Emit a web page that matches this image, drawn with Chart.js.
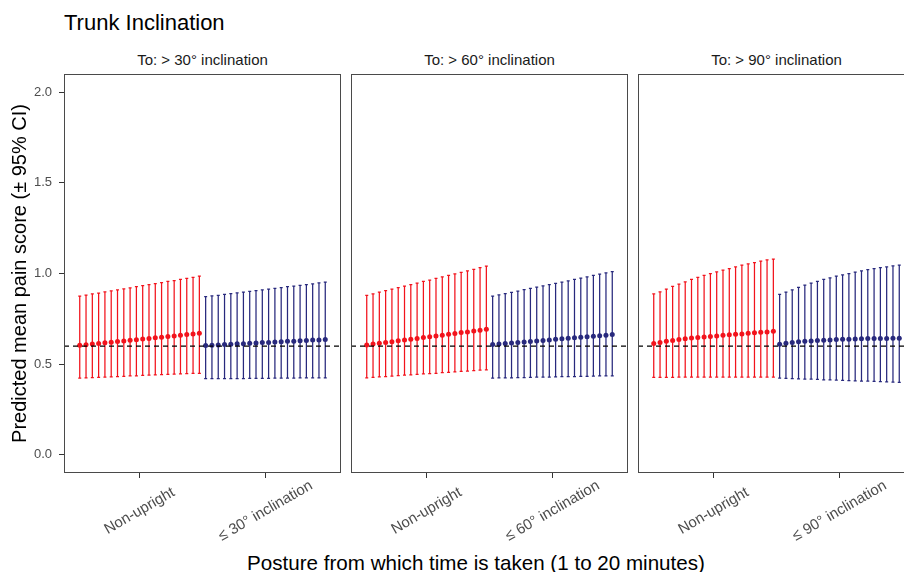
<!DOCTYPE html>
<html lang="en">
<head>
<meta charset="utf-8" />
<title>Trunk Inclination</title>
<script src="https://cdn.jsdelivr.net/npm/chart.js@4.4.1/dist/chart.umd.min.js"></script>
<style>
  html, body { margin: 0; padding: 0; width: 904px; height: 572px; overflow: hidden; background: #fff; }
  body { position: relative; font-family: "Liberation Sans", Arial, sans-serif; }
  .panel { position: absolute; top: 0; height: 572px; }
  .txt { position: absolute; white-space: nowrap; color: #000; }
  #title { left: 64px; top: 12px; font-size: 22px; line-height: 22px; }
  .strip { top: 52px; width: 277px; text-align: center; font-size: 15px; line-height: 15px; color: #1a1a1a; }
  #xtitle { left: 0; width: 952px; top: 553px; text-align: center; font-size: 20.6px; line-height: 20px; }
</style>
</head>
<body>
<div id="title" class="txt">Trunk Inclination</div>
<div id="strip0" class="txt strip" style="left:64px"></div>
<div id="strip1" class="txt strip" style="left:351px"></div>
<div id="strip2" class="txt strip" style="left:638px"></div>
<div id="xtitle" class="txt">Posture from which time is taken (1 to 20 minutes)</div>

<div class="panel" style="left:0; width:346px"><canvas id="chart0"></canvas></div>
<div class="panel" style="left:346px; width:287px"><canvas id="chart1"></canvas></div>
<div class="panel" style="left:633px; width:290px"><canvas id="chart2"></canvas></div>

<script>
// ---- data ----
const minutes = [1, 2, 3, 4, 5, 6, 7, 8, 9, 10, 11, 12, 13, 14, 15, 16, 17, 18, 19, 20]
const panelTitles = ["To: > 30° inclination", "To: > 60° inclination", "To: > 90° inclination"]
const postures30 = ["Non-upright", "≤ 30° inclination"]
const postures60 = ["Non-upright", "≤ 60° inclination"]
const postures90 = ["Non-upright", "≤ 90° inclination"]
const yTicks = [0, 0.5, 1, 1.5, 2]
const refLine = 0.6

// > 30°
const p30UprMean = [0.604, 0.607, 0.611, 0.614, 0.618, 0.621, 0.625, 0.628, 0.632, 0.635, 0.639, 0.642, 0.646, 0.649, 0.653, 0.656, 0.660, 0.663, 0.667, 0.670]
const p30UprHi = [0.875, 0.881, 0.887, 0.892, 0.898, 0.904, 0.910, 0.915, 0.921, 0.927, 0.933, 0.938, 0.944, 0.950, 0.956, 0.961, 0.967, 0.973, 0.979, 0.985]
const p30UprLo = [0.423, 0.424, 0.426, 0.427, 0.429, 0.430, 0.432, 0.433, 0.435, 0.436, 0.438, 0.439, 0.441, 0.442, 0.444, 0.445, 0.447, 0.448, 0.449, 0.450]
const p30InclMean = [0.603, 0.605, 0.606, 0.608, 0.610, 0.612, 0.613, 0.615, 0.617, 0.619, 0.620, 0.622, 0.624, 0.626, 0.627, 0.629, 0.631, 0.633, 0.634, 0.636]
const p30InclHi = [0.872, 0.876, 0.880, 0.885, 0.889, 0.893, 0.897, 0.901, 0.906, 0.910, 0.914, 0.918, 0.922, 0.927, 0.931, 0.935, 0.939, 0.943, 0.948, 0.952]
const p30InclLo = [0.420, 0.420, 0.420, 0.421, 0.421, 0.421, 0.421, 0.422, 0.422, 0.422, 0.422, 0.423, 0.423, 0.423, 0.423, 0.424, 0.424, 0.424, 0.424, 0.425]

// > 60°
const p60UprMean = [0.606, 0.611, 0.615, 0.620, 0.624, 0.629, 0.633, 0.638, 0.642, 0.647, 0.651, 0.656, 0.660, 0.665, 0.669, 0.674, 0.678, 0.683, 0.687, 0.692]
const p60UprHi = [0.880, 0.888, 0.897, 0.905, 0.914, 0.922, 0.931, 0.939, 0.947, 0.956, 0.964, 0.973, 0.981, 0.989, 0.998, 1.006, 1.015, 1.023, 1.032, 1.040]
const p60UprLo = [0.425, 0.427, 0.430, 0.432, 0.434, 0.437, 0.439, 0.441, 0.444, 0.446, 0.448, 0.450, 0.453, 0.455, 0.457, 0.460, 0.462, 0.464, 0.467, 0.469]
const p60InclMean = [0.608, 0.611, 0.614, 0.617, 0.620, 0.622, 0.625, 0.628, 0.631, 0.634, 0.637, 0.640, 0.643, 0.646, 0.649, 0.651, 0.654, 0.657, 0.660, 0.663]
const p60InclHi = [0.875, 0.882, 0.889, 0.896, 0.903, 0.911, 0.918, 0.925, 0.932, 0.939, 0.946, 0.953, 0.960, 0.967, 0.975, 0.982, 0.989, 0.996, 1.003, 1.010]
const p60InclLo = [0.423, 0.424, 0.424, 0.425, 0.426, 0.426, 0.427, 0.428, 0.428, 0.429, 0.430, 0.431, 0.431, 0.432, 0.433, 0.433, 0.434, 0.435, 0.435, 0.436]

// > 90°
const p90UprMean = [0.614, 0.620, 0.626, 0.631, 0.636, 0.640, 0.644, 0.647, 0.650, 0.653, 0.656, 0.659, 0.662, 0.665, 0.667, 0.670, 0.673, 0.676, 0.678, 0.681]
const p90UprHi = [0.888, 0.899, 0.914, 0.929, 0.941, 0.954, 0.967, 0.978, 0.989, 1.000, 1.009, 1.018, 1.027, 1.037, 1.046, 1.053, 1.060, 1.068, 1.075, 1.079]
const p90UprLo = [0.427, 0.427, 0.427, 0.427, 0.428, 0.428, 0.428, 0.428, 0.428, 0.428, 0.428, 0.428, 0.429, 0.429, 0.429, 0.429, 0.429, 0.429, 0.429, 0.429]
const p90InclMean = [0.610, 0.615, 0.619, 0.623, 0.626, 0.628, 0.630, 0.632, 0.634, 0.636, 0.637, 0.638, 0.639, 0.640, 0.641, 0.641, 0.642, 0.642, 0.643, 0.643]
const p90InclHi = [0.885, 0.897, 0.910, 0.923, 0.936, 0.947, 0.956, 0.967, 0.976, 0.985, 0.993, 1.000, 1.007, 1.015, 1.022, 1.027, 1.033, 1.037, 1.042, 1.046]
const p90InclLo = [0.423, 0.422, 0.420, 0.419, 0.418, 0.417, 0.416, 0.414, 0.413, 0.412, 0.411, 0.410, 0.408, 0.407, 0.406, 0.405, 0.404, 0.402, 0.401, 0.400]

const RED = "#f2131c"
const NAVY = "#28297d"
const FONT = '"Liberation Sans", Arial, sans-serif'

Chart.defaults.font.family = FONT

// dodge the 20 minutes across one category slot
const dodge = (cat, vals) => vals.map((v, i) => ({ x: cat + (minutes[i] - 10.5) * 0.05, y: v }))

const errorBars = {
  id: "errorBars",
  beforeDatasetsDraw(chart) {
    const { ctx, scales: { x, y } } = chart
    ctx.save()
    chart.data.datasets.forEach(ds => {
      if (!ds.lo) return
      ctx.strokeStyle = ds.backgroundColor
      ctx.lineWidth = 1.25
      ds.data.forEach((p, i) => {
        const px = x.getPixelForValue(p.x)
        const top = y.getPixelForValue(ds.hi[i])
        const bot = y.getPixelForValue(ds.lo[i])
        ctx.beginPath()
        ctx.moveTo(px, top); ctx.lineTo(px, bot)
        ctx.moveTo(px - 1.5, top); ctx.lineTo(px + 1.5, top)
        ctx.moveTo(px - 1.5, bot); ctx.lineTo(px + 1.5, bot)
        ctx.stroke()
      })
    })
    ctx.restore()
  },
}

// panel box and the slanted posture labels under it
const panelFrame = {
  id: "panelFrame",
  afterDraw(chart, args, opts) {
    const { ctx, chartArea: a, scales: { x } } = chart
    ctx.save()
    ctx.strokeStyle = "#4a4a4a"
    ctx.lineWidth = 1
    ctx.strokeRect(Math.round(a.left) + 0.5, Math.round(a.top) + 0.5, Math.round(a.right - a.left) - 1, Math.round(a.bottom - a.top) - 1)
    ctx.font = "15px " + FONT
    ctx.fillStyle = "#4d4d4d"
    ctx.textAlign = "center"
    ctx.textBaseline = "middle"
    opts.labels.forEach((lab, i) => {
      ctx.save()
      ctx.translate(x.getPixelForValue(i + 1), a.bottom + 38)
      ctx.rotate(-Math.PI / 6)
      ctx.fillText(lab, 0, 0)
      ctx.restore()
    })
    ctx.restore()
  },
}

function makePanel(idx, labels, uprMean, uprLo, uprHi, inclMean, inclLo, inclHi) {
  const first = idx === 0
  const padLeft = first ? 0 : 5
  const padRight = idx === 2 ? 8 : 5
  document.getElementById("strip" + idx).textContent = panelTitles[idx]

  return new Chart(document.getElementById("chart" + idx).getContext("2d"), {
    type: "scatter",
    data: {
      datasets: [
        {
          data: dodge(1, uprMean), lo: uprLo, hi: uprHi,
          backgroundColor: RED, borderWidth: 0, pointRadius: 2.5, order: 1,
        },
        {
          data: dodge(2, inclMean), lo: inclLo, hi: inclHi,
          backgroundColor: NAVY, borderWidth: 0, pointRadius: 2.5, order: 1,
        },
        {
          type: "line",
          data: [{ x: 0.4, y: refLine }, { x: 2.6, y: refLine }],
          borderColor: "#000", borderWidth: 1.3, borderDash: [5, 4],
          pointRadius: 0, fill: false, order: 0,
        },
      ],
    },
    options: {
      responsive: true,
      maintainAspectRatio: false,
      animation: false,
      events: [],
      layout: { padding: { top: 74, left: padLeft, right: padRight, bottom: 0 } },
      plugins: {
        legend: { display: false },
        tooltip: { enabled: false },
        panelFrame: { labels },
      },
      scales: {
        x: {
          type: "linear",
          min: 0.4,
          max: 2.6,
          afterBuildTicks: s => { s.ticks = [{ value: 1 }, { value: 2 }] },
          afterFit: s => { s.height = 99 },
          ticks: { display: false },
          grid: { drawOnChartArea: false, drawTicks: true, tickLength: 5, color: "#333" },
          border: { display: false },
        },
        y: {
          display: first,
          min: -0.1,
          max: 2.1,
          afterBuildTicks: s => { s.ticks = yTicks.map(v => ({ value: v })) },
          afterFit: s => { s.width = first ? 64 : 0 },
          ticks: {
            color: "#4d4d4d",
            font: { size: 13 },
            padding: 7,
            callback: v => v.toFixed(1),
          },
          grid: { drawOnChartArea: false, drawTicks: true, tickLength: 5, color: "#333" },
          border: { display: false },
          title: {
            display: true,
            text: "Predicted mean pain score (± 95% CI)",
            color: "#000",
            font: { size: 20 },
            padding: { top: 8, bottom: 0 },
          },
        },
      },
    },
    plugins: [errorBars, panelFrame],
  })
}

var chart0 = makePanel(0, postures30, p30UprMean, p30UprLo, p30UprHi, p30InclMean, p30InclLo, p30InclHi)
var chart1 = makePanel(1, postures60, p60UprMean, p60UprLo, p60UprHi, p60InclMean, p60InclLo, p60InclHi)
var chart2 = makePanel(2, postures90, p90UprMean, p90UprLo, p90UprHi, p90InclMean, p90InclLo, p90InclHi)
</script>
</body>
</html>
